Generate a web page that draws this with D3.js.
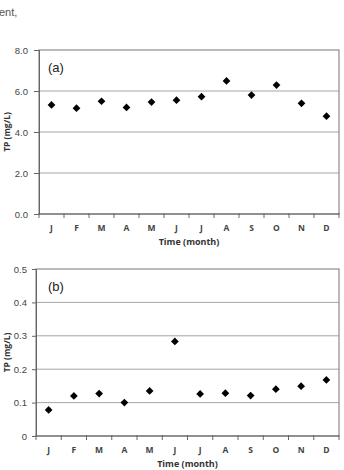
<!DOCTYPE html>
<html>
<head>
<meta charset="utf-8">
<script src="https://cdn.jsdelivr.net/npm/d3@7"></script>
<style>
  body { margin: 0; background: #fff; }
  svg { display: block; }
</style>
</head>
<body>
<div class="chart"></div>
<script>
var months = ["J", "F", "M", "A", "M", "J", "J", "A", "S", "O", "N", "D"];
var tpA = [5.32, 5.16, 5.50, 5.20, 5.46, 5.55, 5.72, 6.49, 5.80, 6.29, 5.40, 4.77];
var tpB = [0.078, 0.120, 0.127, 0.100, 0.135, 0.283, 0.126, 0.128, 0.121, 0.140, 0.149, 0.168];
var ticksA = [0, 2, 4, 6, 8];
var ticksB = [0, 0.1, 0.2, 0.3, 0.4, 0.5];

var svg = d3.select(".chart").append("svg")
    .attr("width", 344)
    .attr("height", 470);

// fragment of caption text above the figure
svg.append("text")
    .attr("x", -1)
    .attr("y", 16)
    .attr("fill", "#555")
    .style("font-family", "'Liberation Sans', Arial, sans-serif")
    .style("font-size", "11px")
    .text("ent,");

function drawPanel(opts) {
    var g = svg.append("g");

    var x = d3.scaleBand()
        .domain(d3.range(months.length))
        .range([opts.left, opts.right]);

    var y = d3.scaleLinear()
        .domain([0, opts.max])
        .range([opts.bottom, opts.top]);

    // gridlines
    g.selectAll(".grid")
        .data(opts.ticks.slice(1, -1))
        .enter().append("line")
        .attr("x1", opts.left)
        .attr("x2", opts.right)
        .attr("y1", function(d) { return y(d); })
        .attr("y2", function(d) { return y(d); })
        .attr("stroke", "#a6a6a6")
        .attr("stroke-width", 1);

    // frame
    g.append("rect")
        .attr("x", opts.left)
        .attr("y", y(opts.max))
        .attr("width", opts.right - opts.left)
        .attr("height", y(0) - y(opts.max))
        .attr("fill", "none")
        .attr("stroke", "#8c8c8c")
        .attr("stroke-width", 1.2);

    // y axis
    var yAxis = d3.axisLeft(y)
        .tickValues(opts.ticks)
        .tickSize(opts.tick)
        .tickPadding(opts.pad)
        .tickFormat(opts.fmt);

    var ya = g.append("g")
        .attr("transform", "translate(" + opts.left + ",0)")
        .call(yAxis);
    ya.select(".domain").attr("stroke", "#666");
    ya.selectAll(".tick line").attr("stroke", "#666");
    ya.selectAll(".tick text")
        .attr("fill", "#444")
        .style("font-family", "'Liberation Sans', Arial, sans-serif")
        .style("font-size", "9.5px");

    // x axis: ticks at category boundaries
    var xa = g.append("g")
        .attr("transform", "translate(0," + opts.bottom + ")");
    xa.append("line")
        .attr("x1", opts.left)
        .attr("x2", opts.right)
        .attr("stroke", "#666");
    xa.selectAll(".xt")
        .data(d3.range(months.length + 1))
        .enter().append("line")
        .attr("x1", function(i) { return opts.left + i * x.bandwidth(); })
        .attr("x2", function(i) { return opts.left + i * x.bandwidth(); })
        .attr("y1", -1)
        .attr("y2", 4)
        .attr("stroke", "#666");
    xa.selectAll(".xl")
        .data(months)
        .enter().append("text")
        .attr("x", function(d, i) { return x(i) + x.bandwidth() / 2; })
        .attr("y", 17)
        .attr("text-anchor", "middle")
        .attr("fill", "#444")
        .style("font-family", "'Open Sans', sans-serif")
        .style("font-size", "8.5px")
        .style("font-weight", "bold")
        .text(function(d) { return d; });

    // axis titles
    g.append("text")
        .attr("x", (opts.left + opts.right) / 2)
        .attr("y", opts.bottom + 31)
        .attr("text-anchor", "middle")
        .attr("fill", "#333")
        .style("font-family", "'Open Sans', sans-serif")
        .style("font-size", "9px")
        .style("font-weight", "bold")
        .text("Time (month)");

    g.append("text")
        .attr("transform", "translate(10," + ((opts.top + opts.bottom) / 2) + ") rotate(-90)")
        .attr("text-anchor", "middle")
        .attr("fill", "#333")
        .style("font-family", "'Open Sans', sans-serif")
        .style("font-size", "8.5px")
        .style("font-weight", "bold")
        .text("TP (mg/L)");

    // panel label
    g.append("text")
        .attr("x", 48)
        .attr("y", opts.top + 22)
        .attr("fill", "#222")
        .style("font-family", "'Liberation Sans', Arial, sans-serif")
        .style("font-size", "13px")
        .text(opts.label);

    // diamond markers
    g.selectAll(".pt")
        .data(opts.values)
        .enter().append("path")
        .attr("d", d3.symbol().type(d3.symbolSquare).size(30))
        .attr("transform", function(d, i) {
            return "translate(" + (x(i) + x.bandwidth() / 2) + "," + y(d) + ") rotate(45)";
        })
        .attr("fill", "#000");
}

drawPanel({
    values: tpA, max: 8, ticks: ticksA, fmt: d3.format(".1f"),
    left: 39, right: 339, top: 50, bottom: 214, label: "(a)", tick: 5, pad: 6
});

drawPanel({
    values: tpB, max: 0.5, ticks: ticksB, fmt: function(d) { return d === 0 ? "0" : d3.format(".1f")(d); },
    left: 36, right: 339, top: 269, bottom: 436, label: "(b)", tick: 4, pad: 5
});
</script>
</body>
</html>
